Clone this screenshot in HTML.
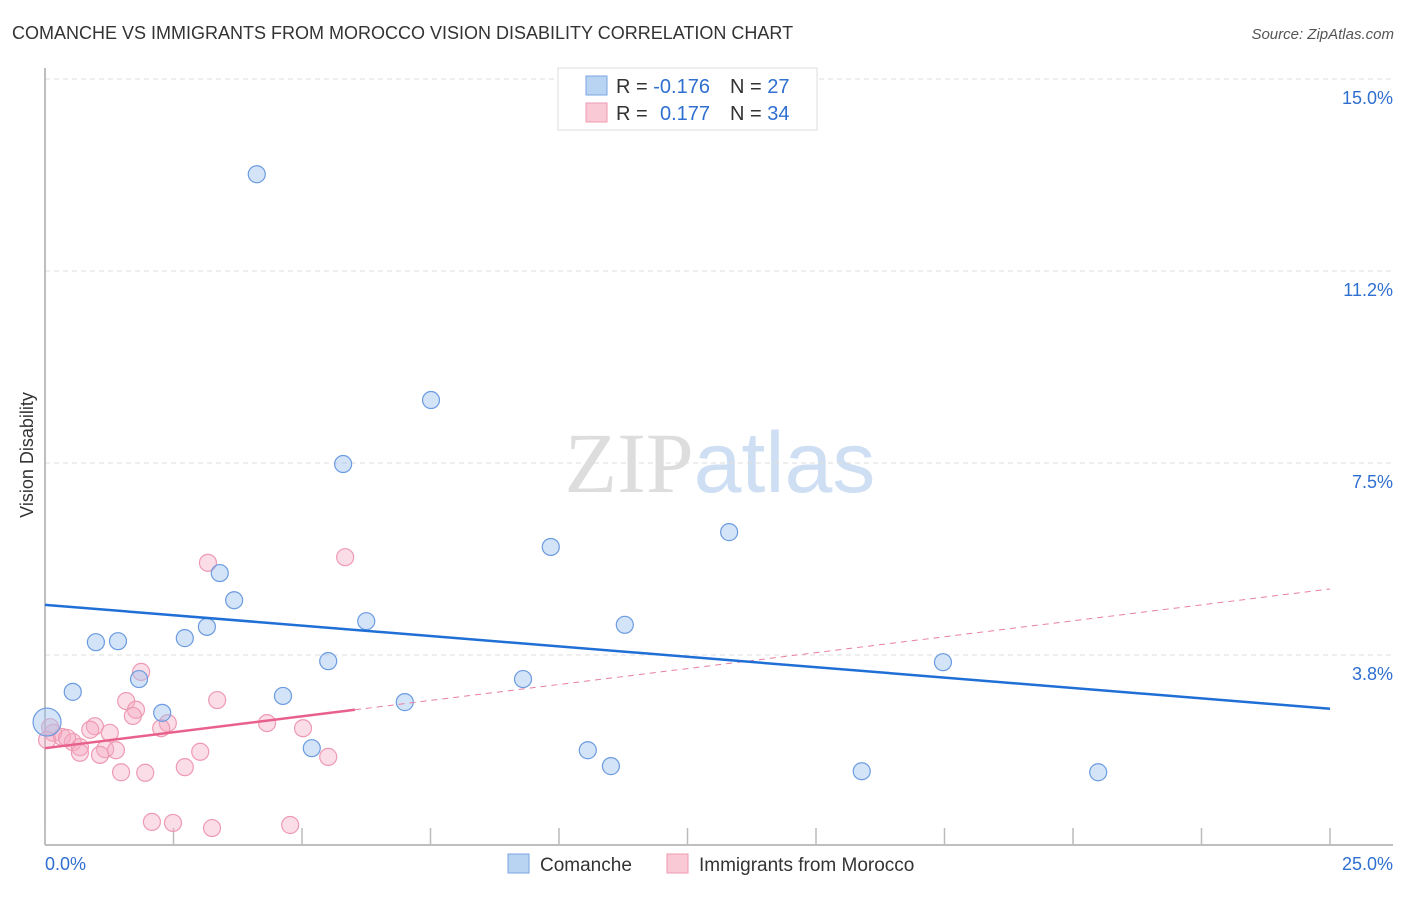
<!DOCTYPE html>
<html><head><meta charset="utf-8"><style>
body{margin:0;background:#fff;font-family:"Liberation Sans",sans-serif;}
svg text{font-family:"Liberation Sans",sans-serif;}
</style></head><body>
<svg id="chart" width="1406" height="892" viewBox="0 0 1406 892" xmlns="http://www.w3.org/2000/svg">
<text x="12" y="39" font-size="18" fill="#333">COMANCHE VS IMMIGRANTS FROM MOROCCO VISION DISABILITY CORRELATION CHART</text>
<text x="1394" y="39" font-size="15" fill="#555" text-anchor="end" font-style="italic">Source: ZipAtlas.com</text>
<text x="720" y="492" font-size="86" text-anchor="middle"><tspan fill="#ddd" font-family="Liberation Serif">ZIP</tspan><tspan fill="#cfdff3">atlas</tspan></text>
<g id="grid"></g>
<g id="axes"></g>
<g id="marks"></g>
<text transform="translate(33,455) rotate(-90)" font-size="18" fill="#333" text-anchor="middle">Vision Disability</text>
<g>
<rect x="558" y="68" width="259" height="62" fill="#fff" stroke="#ddd"/>
<rect x="586" y="76" width="21" height="19" fill="#b9d3f3" stroke="#7aa6e0"/>
<rect x="586" y="103" width="21" height="19" fill="#f9c9d6" stroke="#ee9ab3"/>
<text x="616" y="93" font-size="20" fill="#333">R = <tspan fill="#2f6fd0">-0.176</tspan><tspan x="730">N = </tspan><tspan fill="#2f6fd0">27</tspan></text>
<text x="616" y="120" font-size="20" fill="#333">R = <tspan x="660" fill="#2f6fd0">0.177</tspan><tspan x="730">N = </tspan><tspan fill="#2f6fd0">34</tspan></text>
</g>
<g>
<rect x="508" y="854" width="21" height="19" fill="#b9d3f3" stroke="#7aa6e0"/>
<text x="540" y="871" font-size="19" fill="#333">Comanche</text>
<rect x="667" y="854" width="21" height="19" fill="#f9c9d6" stroke="#ee9ab3"/>
<text x="699" y="871" font-size="19" fill="#333">Immigrants from Morocco</text>
</g>
</svg>
<script>
const yTicks=[3.75,7.5,11.25,15];
const yTickLabels=["3.8%","7.5%","11.2%","15.0%"];
const xTicks=[0,2.5,5,7.5,10,12.5,15,17.5,20,22.5,25];
const xLabels=["0.0%","25.0%"];
const comancheX=[4.12,7.51,5.80,9.84,13.31,3.40,3.68,6.25,11.28,3.15,2.72,0.99,1.42,5.51,17.47,1.83,9.30,0.54,4.63,7.00,2.28,0.04,5.19,10.56,11.01,15.89,20.49];
const comancheY=[13.14,8.73,7.48,5.86,6.15,5.35,4.82,4.41,4.34,4.30,4.08,4.00,4.02,3.63,3.61,3.28,3.28,3.03,2.95,2.83,2.62,2.44,1.93,1.89,1.58,1.48,1.46];
const moroccoX=[3.17,5.84,1.87,1.58,3.35,1.77,1.71,2.39,2.26,4.32,5.02,0.97,0.88,1.26,0.16,0.33,0.54,0.68,1.17,1.38,1.07,0.68,3.02,2.72,1.48,1.95,5.51,2.08,2.49,3.25,4.77,0.10,0.43,0.04];
const moroccoY=[5.55,5.66,3.42,2.85,2.87,2.68,2.56,2.42,2.32,2.42,2.32,2.36,2.29,2.23,2.23,2.15,2.05,1.95,1.91,1.89,1.80,1.84,1.86,1.56,1.46,1.45,1.76,0.49,0.47,0.37,0.43,2.34,2.13,2.09];
const comancheTrend=[4.73,2.70];
const moroccoTrend=[1.93,5.04];
const moroccoSolidEnd=6.03;
const xs=v=>45+v/25*1285, ys=v=>847-v/15*768;
const NS="http://www.w3.org/2000/svg";
function mk(parent,tag,attrs){const e=document.createElementNS(NS,tag);for(const k in attrs)e.setAttribute(k,attrs[k]);document.getElementById(parent).appendChild(e);return e;}
yTicks.forEach((t,i)=>{
 const l=mk('grid','line',{x1:45,x2:1393,y1:ys(t),y2:ys(t),stroke:'#ddd','stroke-dasharray':'5,4'});
 
 
 const tx=mk('grid','text',{x:1393,y:ys(t)+25,'font-size':18,fill:'#2f6fd0','text-anchor':'end'});
 tx.textContent=yTickLabels[i];
 
 
});
let a=mk('axes','line',{x1:45,x2:45,y1:68,y2:845,stroke:'#aaa','stroke-width':1.5});


a=mk('axes','line',{x1:45,x2:1393,y1:845,y2:845,stroke:'#aaa','stroke-width':1.5});


xTicks.forEach(t=>{
 const l=mk('axes','line',{x1:xs(t),x2:xs(t),y1:828,y2:845,stroke:'#bbb','stroke-width':1.5});
 
 
});
let xl=mk('axes','text',{x:45,y:870,'font-size':18,fill:'#2f6fd0'});xl.textContent=xLabels[0];


xl=mk('axes','text',{x:1393,y:870,'font-size':18,fill:'#2f6fd0','text-anchor':'end'});xl.textContent=xLabels[1];


moroccoX.forEach((x,i)=>{
 const c=mk('marks','circle',{cx:xs(x),cy:ys(moroccoY[i]),r:8.5,fill:'rgba(246,170,195,0.4)',stroke:'#ee9ab3','stroke-width':1.2});
 
 
});
comancheX.forEach((x,i)=>{
 const c=mk('marks','circle',{cx:xs(x),cy:ys(comancheY[i]),r:i===21?14:8.5,fill:'rgba(160,195,240,0.45)',stroke:'#6b9be0','stroke-width':1.2});
 
 
});
const mAt=v=>moroccoTrend[0]+(moroccoTrend[1]-moroccoTrend[0])*v/25;
let t=mk('marks','line',{x1:xs(moroccoSolidEnd),y1:ys(mAt(moroccoSolidEnd)),x2:xs(25),y2:ys(moroccoTrend[1]),stroke:'#e87fa0','stroke-width':1,'stroke-dasharray':'6,5'});


t=mk('marks','line',{x1:xs(0),y1:ys(moroccoTrend[0]),x2:xs(moroccoSolidEnd),y2:ys(mAt(moroccoSolidEnd)),stroke:'#e8618c','stroke-width':2.5});


t=mk('marks','line',{x1:xs(0),y1:ys(comancheTrend[0]),x2:xs(25),y2:ys(comancheTrend[1]),stroke:'#1f6fd6','stroke-width':2.5});


</script>
</body></html>
